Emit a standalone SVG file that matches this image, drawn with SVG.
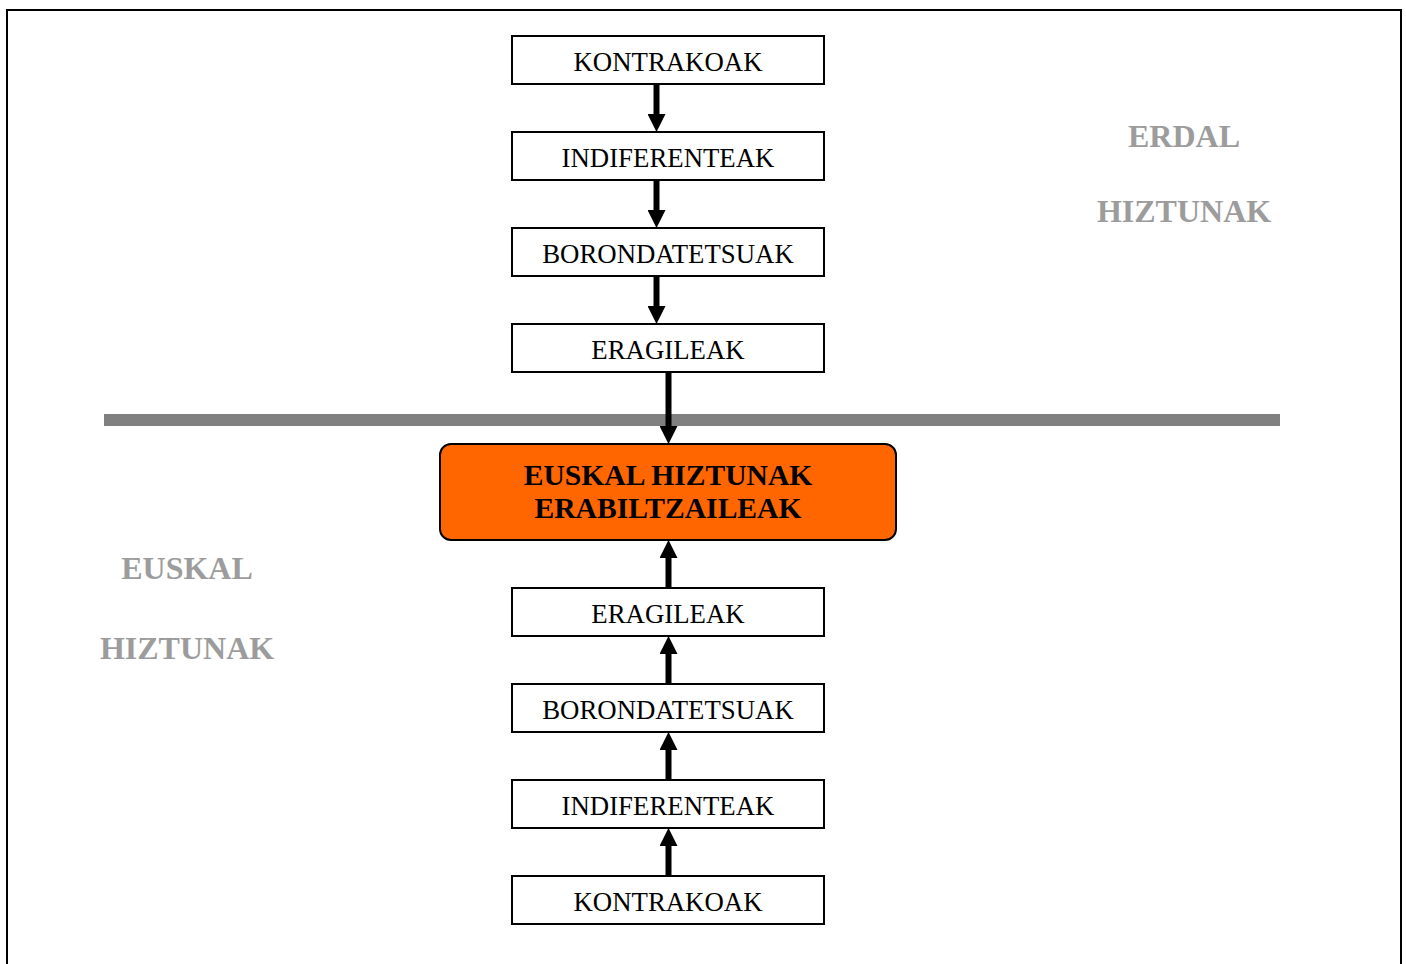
<svg xmlns="http://www.w3.org/2000/svg" width="1406" height="964" viewBox="0 0 1406 964">
<style>
.box{fill:#ffffff;stroke:#000000;stroke-width:2}
.lbl{font-family:"Liberation Serif","Times New Roman",serif;font-size:26.8px;fill:#000000;text-anchor:middle}
.main{font-family:"Liberation Serif","Times New Roman",serif;font-size:29.6px;font-weight:bold;fill:#000000;text-anchor:middle}
.side{font-family:"Liberation Serif","Times New Roman",serif;font-size:32px;font-weight:bold;fill:#9c9c9c;text-anchor:middle}
.conn{stroke:#000000;stroke-width:6;fill:none;marker-end:url(#ah)}
</style>
<defs>
<marker id="ah" markerUnits="userSpaceOnUse" markerWidth="18" markerHeight="18" viewBox="0 0 18 18" refX="0" refY="9" orient="auto">
<path d="M0,0 L18,9 L0,18 Z" fill="#000000"/>
</marker>
</defs>
<rect x="0" y="0" width="1406" height="964" fill="#ffffff"/>
<rect id="frame" x="7" y="10" width="1394" height="990" fill="none" stroke="#000000" stroke-width="2"/>
<rect id="divider" x="104" y="414" width="1176" height="12" fill="#808080"/>
<g id="labels">
<text class="side" x="1184" y="147">ERDAL</text>
<text class="side" x="1184" y="222">HIZTUNAK</text>
<text class="side" x="187" y="579">EUSKAL</text>
<text class="side" x="187" y="659">HIZTUNAK</text>
</g>
<g id="connectors">
<line class="conn" x1="656.5" y1="84" x2="656.5" y2="114"/>
<line class="conn" x1="656.5" y1="180" x2="656.5" y2="210"/>
<line class="conn" x1="656.5" y1="276" x2="656.5" y2="306"/>
<line class="conn" x1="668.5" y1="372" x2="668.5" y2="426"/>
<line class="conn" x1="668.5" y1="588" x2="668.5" y2="558"/>
<line class="conn" x1="668.5" y1="684" x2="668.5" y2="654"/>
<line class="conn" x1="668.5" y1="780" x2="668.5" y2="750"/>
<line class="conn" x1="668.5" y1="876" x2="668.5" y2="846"/>
</g>
<g id="top-kontrakoak"><rect class="box" x="512" y="36" width="312" height="48"/><text class="lbl" x="668" y="71">KONTRAKOAK</text></g>
<g id="top-indiferenteak"><rect class="box" x="512" y="132" width="312" height="48"/><text class="lbl" x="668" y="167">INDIFERENTEAK</text></g>
<g id="top-borondatetsuak"><rect class="box" x="512" y="228" width="312" height="48"/><text class="lbl" x="668" y="263">BORONDATETSUAK</text></g>
<g id="top-eragileak"><rect class="box" x="512" y="324" width="312" height="48"/><text class="lbl" x="668" y="359">ERAGILEAK</text></g>
<g id="euskal-hiztunak"><rect x="440" y="444" width="456" height="96" rx="11" ry="11" fill="#ff6600" stroke="#000000" stroke-width="2"/><text class="main" x="668" y="485">EUSKAL HIZTUNAK</text><text class="main" x="668" y="518">ERABILTZAILEAK</text></g>
<g id="bot-eragileak"><rect class="box" x="512" y="588" width="312" height="48"/><text class="lbl" x="668" y="623">ERAGILEAK</text></g>
<g id="bot-borondatetsuak"><rect class="box" x="512" y="684" width="312" height="48"/><text class="lbl" x="668" y="719">BORONDATETSUAK</text></g>
<g id="bot-indiferenteak"><rect class="box" x="512" y="780" width="312" height="48"/><text class="lbl" x="668" y="815">INDIFERENTEAK</text></g>
<g id="bot-kontrakoak"><rect class="box" x="512" y="876" width="312" height="48"/><text class="lbl" x="668" y="911">KONTRAKOAK</text></g>
</svg>
